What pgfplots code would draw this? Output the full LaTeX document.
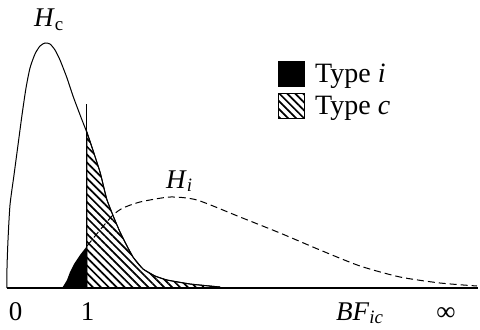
\documentclass[border=0pt]{standalone}
\usepackage{fontspec}
\setmainfont{Liberation Serif}
\usepackage{pgfplots}
\pgfplotsset{compat=1.18}
\usetikzlibrary{patterns.meta}
\tikzset{hatch/.style={pattern={Lines[angle=-45,distance=5.6bp,line width=1.7bp]}},
  lab/.style={font=\fontsize{27bp}{31bp}\selectfont, inner sep=0pt}}
\begin{document}
\begin{tikzpicture}
\begin{axis}[
  scale only axis, width=480bp, height=329bp,
  xmin=0, xmax=480, ymin=0, ymax=329, y dir=reverse,
  axis lines=none, clip=false,
  legend style={at={(axis cs:278,61)}, anchor=north west, draw=none, fill=none,
    inner sep=0pt, row sep=6bp, column sep=8bp, font=\fontsize{28bp}{32bp}\selectfont,
    legend cell align=left},
  legend image code/.code={\draw[#1,line width=1bp] (0bp,-12.5bp) rectangle (26bp,12.5bp);},
]
\path (rel axis cs:0,0) rectangle (rel axis cs:1,1);
% filled regions
\addplot[fill=black, draw=none] coordinates {
 (62,288) (64,285) (67,280) (70,272) (74,264) (80,255) (87,246) (87,288)};
\addlegendentry{Type \textit{i}}
\addplot[hatch, draw=black, line width=0.9bp] coordinates {
 (87,288) (87,132) (93,150) (100,172) (107,200) (114,218) (120,232) (127,246) (133,257) (143,269) (155,276) (167,280) (190,284) (220,287) (220,288)};
\addlegendentry{Type \textit{c}}
% H_c curve
\addplot[forget plot, black, line width=1bp, smooth, tension=0.4] coordinates {
 (7,288) (7,268) (8,240) (10,205) (14,175) (18,145) (22,115) (26,88) (30,68) (35,54) (40,46) (45,43) (50,44) (55,50) (60,60) (67,78) (73,96) (82,120) (87,133) (100,172) (107,200) (120,232) (133,257) (143,269) (155,276) (167,280) (190,284) (220,287)};
% H_i curve
\addplot[forget plot, black, line width=1bp, dash pattern=on 7bp off 4bp, smooth, tension=0.4] coordinates {
 (87,246) (100,230) (113,215) (123,208) (140,202) (170,197) (197,200) (240,217) (280,233) (320,250) (360,266) (400,277) (440,283) (477,286)};
% baseline
\addplot[forget plot, black, line width=1.3bp] coordinates {(7,288) (478,288)};
% vertical line at 1
\addplot[forget plot, black, line width=1.6bp] coordinates {(86.5,104) (86.5,288)};
% labels
\node[lab, anchor=base] at (axis cs:15.5,320) {0};
\node[lab, anchor=base] at (axis cs:87.5,320) {1};
\node[lab, anchor=base west] at (axis cs:336,320) {\textit{BF}\textsubscript{\textit{ic}}};
\node[lab, anchor=base] at (axis cs:446,320) {∞};
\node[lab, anchor=base west] at (axis cs:34,27) {\textit{H}\textsubscript{c}};
\node[lab, anchor=base west] at (axis cs:166,188) {\textit{H}\textsubscript{\textit{i}}};
\end{axis}
\end{tikzpicture}
\end{document}
